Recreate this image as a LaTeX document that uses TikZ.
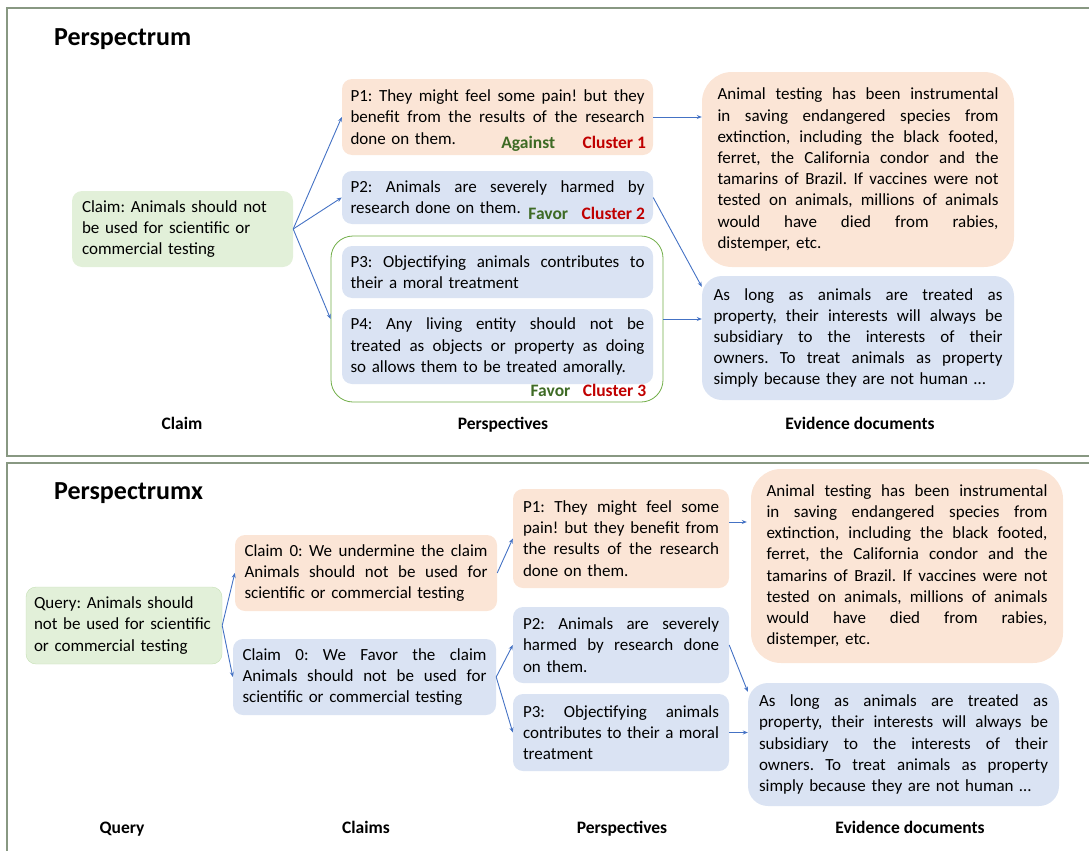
\documentclass[tikz,border=0pt]{standalone}
\usepackage{fontspec}
\setmainfont{Carlito}
\usetikzlibrary{arrows.meta,fit}

\definecolor{orfill}{HTML}{FBE5D6}
\definecolor{blfill}{HTML}{DAE3F3}
\definecolor{grfill}{HTML}{E2F0D9}
\definecolor{grline}{HTML}{C5E0B4}
\definecolor{arrblue}{HTML}{4472C4}
\definecolor{grpgreen}{HTML}{70AD47}
\definecolor{framegreen}{HTML}{889882}
\definecolor{stancegreen}{HTML}{3E6B25}
\definecolor{clusterred}{HTML}{C00000}

% one justified line of a box
\newcommand{\jl}[1]{\leavevmode\hbox to\hsize{\spaceskip=\fontdimen2\font plus 1fill\relax #1}}
\newcommand{\bodyfont}{\fontsize{17}{21.2}\selectfont\frenchspacing\hyphenpenalty=10000 }

\tikzset{
  framelin/.style={draw=framegreen, line width=1.8pt},
  headtxt/.style={inner sep=0pt, font=\fontsize{26}{30}\selectfont\bfseries},
  colabel/.style={inner sep=0pt, font=\fontsize{17.5}{21.2}\selectfont\bfseries, anchor=base},
  box/.style={rectangle, rounded corners=10pt, inner sep=2pt, font=\bodyfont, align=left},
  pbox/.style={box, text width=294pt, minimum width=311pt},
  qbox/.style={box, text width=196pt, minimum width=216pt},
  ebox/.style={box, minimum width=312pt},
  grpbox/.style={draw=grpgreen, line width=0.8pt, rounded corners=22pt, inner sep=0pt},
  tagtxt/.style={inner sep=0pt, font=\fontsize{17.5}{21.2}\selectfont\bfseries, anchor=base east},
  arr/.style={draw=arrblue, line width=0.9pt, -{Stealth[length=5pt,width=4pt]}}
}

\begin{document}
\begin{tikzpicture}[x=1pt,y=-1pt]
  \useasboundingbox (0,0) rectangle (1089,851);
  % frames
  \draw[framelin] (1089,8) -- (7,8) -- (7,456) -- (1089,456);
  \draw[framelin] (1089,463) -- (7,463) -- (7,851);

  % Perspectrum
  \node[headtxt, anchor=base west] (t1) at (54,45.5) {Perspectrum};
  \node[box, fill=grfill, text width=201pt, minimum width=221pt, minimum height=76pt] (claim) at (182.5,229)
    {Claim: Animals should not\\ be used for scientific or\\ commercial testing};
  \node[pbox, fill=orfill, minimum height=76pt] (p1) at (497.5,117)
    {\jl{P1: They might feel some pain! but they}\\ \jl{benefit from the results of the research}\\ done on them.};
  \node[pbox, fill=blfill, minimum height=53pt] (p2) at (497.5,197.5)
    {\jl{P2: Animals are severely harmed by}\\ research done on them.};
  \node[grpbox, fit={(331,236) (663,402)}] (grp) {};
  \node[pbox, fill=blfill, minimum height=52pt] (p3) at (497.5,272)
    {\jl{P3: Objectifying animals contributes to}\\ their a moral treatment};
  \node[pbox, fill=blfill, minimum height=75pt] (p4) at (497.5,346.5)
    {\jl{P4: Any living entity should not be}\\ \jl{treated as objects or property as doing}\\ so allows them to be treated amorally.};
  % stance and cluster tags
  \node[tagtxt, text=clusterred] (c1) at ([xshift=-7pt,yshift=6.5pt]p1.south east) {Cluster 1};
  \node[tagtxt, text=stancegreen] (s1) at ([xshift=-27pt]c1.base west) {Against};
  \node[tagtxt, text=clusterred] (c2) at ([xshift=-8pt,yshift=4.4pt]p2.south east) {Cluster 2};
  \node[tagtxt, text=stancegreen] (s2) at ([xshift=-13pt]c2.base west) {Favor};
  \node[tagtxt, text=clusterred] (c3) at ([xshift=-17pt,yshift=6.4pt]grp.south east) {Cluster 3};
  \node[tagtxt, text=stancegreen] (s3) at ([xshift=-12pt]c3.base west) {Favor};
  % evidence
  \node[ebox, fill=orfill, rounded corners=30pt, text width=281pt, minimum height=195pt] (e1) at (858,169.5)
    {\jl{Animal testing has been instrumental}\\ \jl{in saving endangered species from}\\
     \jl{extinction, including the black footed,}\\ \jl{ferret, the California condor and the}\\
     \jl{tamarins of Brazil. If vaccines were not}\\ \jl{tested on animals, millions of animals}\\
     \jl{would have died from rabies,}\\ distemper, etc.};
  \node[ebox, fill=blfill, rounded corners=20pt, text width=289pt, minimum height=124pt] (e2) at (858,338)
    {\jl{As long as animals are treated as}\\ \jl{property, their interests will always be}\\
     \jl{subsidiary to the interests of their}\\ \jl{owners. To treat animals as property}\\
     simply because they are not human …};
  % arrows
  \draw[arr] (claim.east) -- (p1.west);
  \draw[arr] (claim.east) -- (p2.west);
  \draw[arr] (claim.east) -- (grp.west);
  \draw[arr] (p1.east) -- (p1.east -| e1.west);
  \draw[arr] (p2.east) -- ([yshift=-11pt]e2.north west);
  \draw[arr] (grp.east) -- (grp.east -| e2.west);
  % column labels
  \node[colabel] (l1) at (182,429.6) {Claim};
  \node[colabel] (l2) at (503,429.6) {Perspectives};
  \node[colabel] (l3) at (860,429.6) {Evidence documents};

  % Perspectrumx
  \node[headtxt, anchor=base west] (t2) at (54,499.5) {Perspectrumx};
  \node[box, fill=grfill, draw=grline, text width=180pt, minimum width=196pt, minimum height=77pt] (query) at (124,625.5)
    {Query: Animals should\\ not be used for scientific\\ or commercial testing};
  \node[box, fill=orfill, text width=243pt, minimum width=262pt, minimum height=76pt] (ca) at (366,573)
    {\jl{Claim 0: We undermine the claim}\\ \jl{Animals should not be used for}\\ scientific or commercial testing};
  \node[box, fill=blfill, text width=244pt, minimum width=263pt, minimum height=76pt] (cb) at (364.5,677)
    {\jl{Claim 0: We Favor the claim}\\ \jl{Animals should not be used for}\\ scientific or commercial testing};
  \node[qbox, fill=orfill, minimum height=99pt] (q1) at (621,538.5)
    {\jl{P1: They might feel some}\\ \jl{pain! but they benefit from}\\ \jl{the results of the research}\\ done on them.};
  \node[qbox, fill=blfill, minimum height=76pt] (q2) at (621,645)
    {\jl{P2: Animals are severely}\\ \jl{harmed by research done}\\ on them.};
  \node[qbox, fill=blfill, minimum height=77pt] (q3) at (621,732.5)
    {\jl{P3: Objectifying animals}\\ \jl{contributes to their a moral}\\ treatment};
  \node[ebox, fill=orfill, rounded corners=30pt, text width=281pt, minimum height=194pt] (f1) at (907,566)
    {\jl{Animal testing has been instrumental}\\ \jl{in saving endangered species from}\\
     \jl{extinction, including the black footed,}\\ \jl{ferret, the California condor and the}\\
     \jl{tamarins of Brazil. If vaccines were not}\\ \jl{tested on animals, millions of animals}\\
     \jl{would have died from rabies,}\\ distemper, etc.};
  \node[ebox, fill=blfill, rounded corners=20pt, text width=289pt, minimum width=311pt, minimum height=123pt] (f2) at (903.5,744.5)
    {\jl{As long as animals are treated as}\\ \jl{property, their interests will always be}\\
     \jl{subsidiary to the interests of their}\\ \jl{owners. To treat animals as property}\\
     simply because they are not human …};
  % arrows
  \draw[arr] (query.east) -- (ca.west);
  \draw[arr] (query.east) -- (cb.west);
  \draw[arr] (ca.east) -- (q1.west);
  \draw[arr] (cb.east) -- (q2.west);
  \draw[arr] (cb.east) -- (q3.west);
  \draw[arr, shorten >=4pt] ([yshift=16.5pt]q1.east) -- ([yshift=16.5pt]q1.east -| f1.west);
  \draw[arr] (q2.east) -- ([yshift=-9pt]f2.north west);
  \draw[arr] (q3.east) -- (q3.east -| f2.west);
  % column labels
  \node[colabel] (m1) at (122,833.6) {Query};
  \node[colabel] (m2) at (366,833.6) {Claims};
  \node[colabel] (m3) at (622,833.6) {Perspectives};
  \node[colabel] (m4) at (910,833.6) {Evidence documents};
\end{tikzpicture}
\end{document}
